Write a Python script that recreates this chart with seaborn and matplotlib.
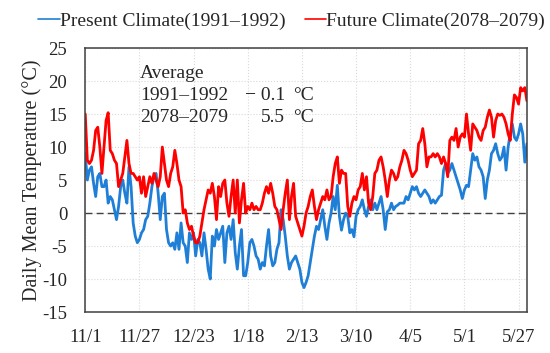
import seaborn as sns
import matplotlib.pyplot as plt
import pandas as pd

# daily mean temperature, 1 Nov - 31 May (213 days)
present_temp = [
    9, 5, 6.5, 7, 4.5, 2.5, 5.5, 6, 4, 4,
    5, 1.5, 2.5, 2, 0.5, -1, 1, 4, 5, 3,
    1.5, 7, 4, -1.5, -3.5, -4.5, -4, -3, -2.5, -1,
    -0.5, 1.5, 4, 5.5, 6, 3, -1, 2.5, 3, -2.5,
    -4.5, -5, -4.5, -5.5, -3, -5.5, -1.5, -4.5, -5, -7.5,
    -3, -4, -3, -6.5, -4, -4.5, -6.5, -3, -5.5, -8.5,
    -10, -3.5, -5, -2.5, -4, -3, -2, -7.5, -3, -2,
    -4, -1, -6, -8.5, -5, -2.5, -9.5, -9.5, -7.5, -4.5,
    -4, -5, -6.5, -7, -8.5, -7.5, -8, -5, -2.5, -6.5,
    -8, -7.5, -5.5, -4.5, 0.5, -1, -3.5, -6.5, -8.5, -7.5,
    -7, -6.5, -7.5, -8.5, -10.5, -11.3, -10.5, -9.5, -7.5, -5.5,
    -3.5, -2, -2.5, -1, 0.5, -2, -4, -1.5, 0, 2.5,
    0.5, 4.2, -0.5, -2.6, -1, 0, -0.5, -3, -2.5, -3.6,
    -0.5, 0.5, 1, 2, 0.5, -0.5, 1, 2, 0.5, 1.5,
    0.5, 1.5, 2.5, 0.5, -2.5, 0.2, 0.5, 1.5, 0.5, 1,
    1.2, 1.5, 1.5, 1.5, 2.5, 2, 3, 4, 3.5, 4,
    3, 2.5, 3, 3.5, 3, 2.5, 1.5, 2, 1.5, 2,
    2.5, 2.7, 6.5, 7.5, 6, 6.5, 7.5, 6.5, 5.5, 4.5,
    3.5, 2.2, 3.5, 4.2, 4, 6.5, 9, 8, 8.5, 7,
    6.5, 5.5, 2.2, 5, 6.5, 9, 9.5, 10.5, 9, 8,
    8.5, 10, 6.5, 10, 12, 13.5, 11.5, 11, 12, 13.5,
    12, 7.7, 10.5,
]
future_temp = [
    15, 8, 7.5, 8, 9.5, 12.5, 13, 10, 6, 10,
    14, 15.2, 9.5, 9, 8, 7.5, 4, 5, 6, 8.5,
    11, 7.5, 6, 6, 5.5, 5, 5.5, 3, 5.5, 2.5,
    4, 5.5, 4.5, 6, 5, 4, 5.5, 10, 7.5, 5,
    4, 6, 7, 9.5, 7.5, 5, 4, 0, 0.5, -1.5,
    -2.5, -2, -3.5, -4.5, -4.5, -3.5, -1.5, 0.5, 2, 3.5,
    3, 4.5, 2.5, -1, 4, 2.5, 4.5, 5, 1.5, -0.5,
    2.5, 5, 0, 5, -1.5, 2, 4.5, 0, 1, 0.5,
    1.5, 0.5, 1, 0.5, 0.5, 1.5, 3, 4, 3, 4.5,
    3, 1, 0.5, -1, -2.5, 0.5, 3, 5, -1, 2.5,
    4.5, -0.5, -1.5, -2.5, -3.5, -2, 0, 1, 2.5, 3.5,
    1, -1, 0.5, 1.5, 2.5, 2, 3.5, 2, 2.5, 5.5,
    7.5, 8.5, 4.5, 6.5, 6, 6, 1, -0.5, 1.5, 2.5,
    2, 3.5, 4, 6, 3.5, 5.5, 1.5, 0.5, 2.5, 6,
    6.5, 8, 8.5, 7, 5, 2.5, 5, 6.5, 6, 5,
    5.5, 7, 8, 9.5, 9, 8, 6.5, 5.5, 6, 6.5,
    10.5, 11, 12.8, 10.5, 7, 8.5, 8.5, 9, 8.5, 9,
    8.5, 7.5, 8.5, 7.5, 5.5, 11, 11.5, 11, 12.8, 10,
    11.5, 12, 11.5, 15, 12, 9.5, 13.5, 13, 12.5, 11.5,
    11, 12.5, 13, 14.5, 15.6, 14.5, 11.5, 14, 15, 14.8,
    15, 14.5, 13.5, 12, 11, 15, 17.9, 17.5, 16.5, 19,
    18.5, 19, 17,
]
tick_labels = ['11/1', '11/27', '12/23', '1/18', '2/13', '3/10', '4/5', '5/1', '5/27']
avg_present = -0.1
avg_future = 5.5

dates = pd.date_range('1991-11-01', '1992-05-31', freq='D')
df = pd.DataFrame({
    'day': range(len(dates)),
    'Present Climate(1991\u20131992)': present_temp,
    'Future Climate(2078\u20132079)': future_temp,
})
long_df = df.melt(id_vars='day', var_name='series', value_name='temp')
tick_pos = [dates.get_loc(pd.Timestamp(('1991-' if m >= 11 else '1992-') + f'{m}-{d}'))
            for m, d in (map(int, t.split('/')) for t in tick_labels)]

sns.set_style('white')
plt.rcParams['font.family'] = ['Liberation Serif', 'DejaVu Serif']
plt.rcParams['axes.unicode_minus'] = False

fig = plt.figure(figsize=(5.5, 3.53), dpi=100)
ax = fig.add_axes([0.155, 0.116, 0.803, 0.748])

ax.axhline(0, color='#404040', lw=1.0, ls=(0, (5, 3)), zorder=1)
sns.lineplot(
    data=long_df, x='day', y='temp', hue='series',
    palette=['#1f7fd6', '#ff0000'], linewidth=2.0, ax=ax, legend=True
)

ax.set_xlim(0, len(dates) - 1)
ax.set_ylim(-15, 25)
ax.set_yticks(range(-15, 26, 5))
ax.set_xticks(tick_pos)
ax.set_xticklabels(tick_labels)
ax.tick_params(axis='x', length=0, pad=12, labelsize=13.5)
ax.tick_params(axis='y', length=0, pad=13, labelsize=13.5)
ax.grid(True, color='#d9d9d9', lw=0.8, ls=':')
for s in ax.spines.values():
    s.set_color('#404040')
    s.set_linewidth(1.1)
ax.set_xlabel('')
ax.set_ylabel('Daily Mean Temperature (\u00b0C)', fontsize=14.5, labelpad=0)

handles, labels = ax.get_legend_handles_labels()
ax.legend_.remove()
leg = fig.legend(handles, labels, loc='upper center', bbox_to_anchor=(0.53, 1.015), ncol=2,
                 frameon=False, fontsize=14, handlelength=1.1, handletextpad=0.0,
                 columnspacing=1.0)
for line in leg.get_lines():
    line.set_linewidth(1.2)

txt = dict(transform=ax.transAxes, fontsize=14, va='center')
ax.text(0.124, 0.905, 'Average', **txt)
ax.text(0.124, 0.822, '1991\u20131992', **txt)
ax.text(0.124, 0.735, '2078\u20132079', **txt)
ax.text(0.452, 0.822, f'\u2212 {abs(avg_present)}', ha='right', **txt)
ax.text(0.452, 0.735, f'{avg_future}', ha='right', **txt)
ax.text(0.47, 0.822, '\u00b0C', **txt)
ax.text(0.47, 0.735, '\u00b0C', **txt)

fig.savefig('out.png', dpi=100)
